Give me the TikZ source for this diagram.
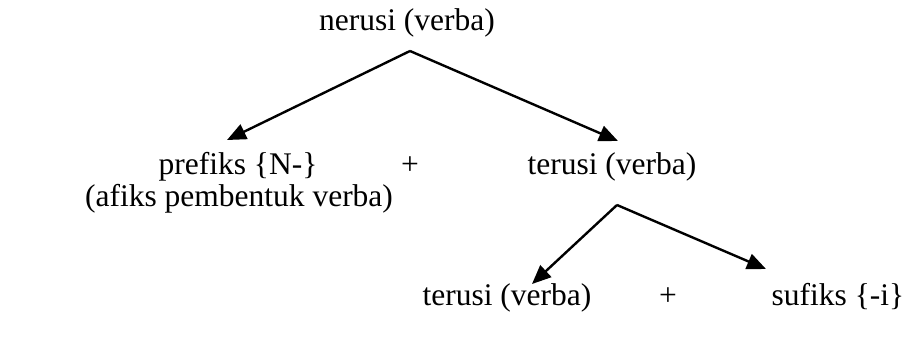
\documentclass[tikz,border=0pt]{standalone}
\usepackage{fontspec}
\setmainfont{Liberation Serif}
\usetikzlibrary{arrows.meta}
\begin{document}
\begin{tikzpicture}[x=1pt,y=-1pt,
  lbl/.style={inner sep=0pt,anchor=base,font=\fontsize{31.5}{37}\selectfont},
  branch/.style={line width=2.4pt,-{Triangle[length=19pt,width=16pt]}}]
\useasboundingbox (0,0) rectangle (919,343);
% root
\node[lbl] (root) at (407,30) {nerusi (verba)};
\coordinate (j1) at (410,51);
% first level
\node[lbl] (pre) at (238,174) {prefiks \{N-\}};
\node[lbl] (preg) at (239,206) {(afiks pembentuk verba)};
\node[lbl] (plus1) at (410,174) {+};
\node[lbl] (ter) at (612,174) {terusi (verba)};
\coordinate (t1) at (227,140);
\coordinate (t2) at (618,141);
\coordinate (j2) at (617,205);
% second level
\node[lbl] (ter2) at (507,305) {terusi (verba)};
\node[lbl] (plus2) at (668,305) {+};
\node[lbl] (suf) at (838,305) {sufiks \{-i\}};
\coordinate (t3) at (532,284);
\coordinate (t4) at (766,269);
% branches
\draw[branch] (j1) -- (t1);
\draw[branch] (j1) -- (t2);
\draw[branch] (j2) -- (t3);
\draw[branch] (j2) -- (t4);
\end{tikzpicture}
\end{document}
